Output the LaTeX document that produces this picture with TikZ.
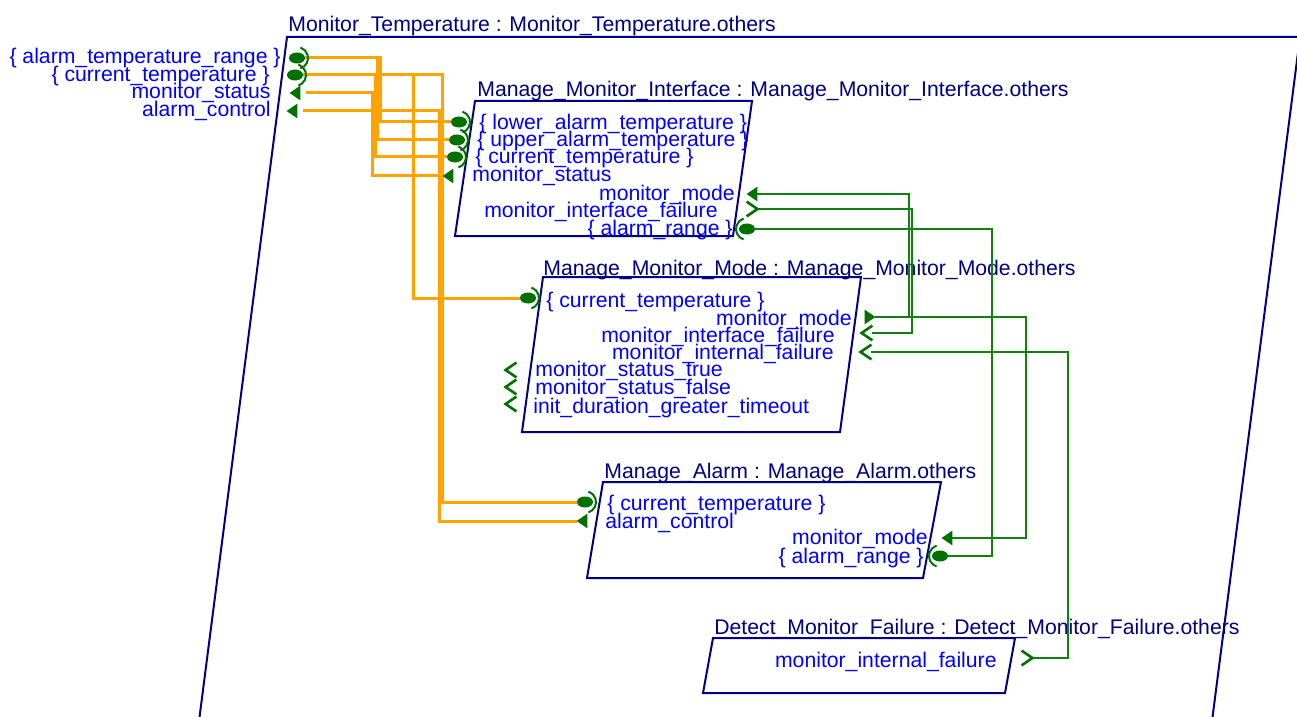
\documentclass[tikz,border=0pt]{standalone}
\usepackage{fontspec}
\setmainfont{Liberation Sans}
\usepackage{tikz}
\usetikzlibrary{shapes.geometric}

\definecolor{navy}{RGB}{0,0,128}
\definecolor{portblue}{RGB}{0,0,255}
\definecolor{portgreen}{RGB}{0,112,0}
\definecolor{linkorange}{RGB}{255,163,0}
\definecolor{linkgreen}{RGB}{16,128,16}

\tikzset{
  compbox/.style={draw=navy, line width=1pt},
  comptitle/.style={anchor=base west, inner sep=0pt, text=navy},
  portl/.style={anchor=base west, inner sep=0pt, text=portblue},
  portr/.style={anchor=base east, inner sep=0pt, text=portblue},
  dacc/.style={ellipse, fill=portgreen, inner sep=0pt, minimum width=8pt, minimum height=5.5pt},
  evt/.style={inner sep=0pt, minimum width=5pt, minimum height=7pt},
  acclink/.style={draw=linkorange, line width=1.5pt},
  evtlink/.style={draw=linkgreen, line width=1.2pt},
}

\begin{document}
\begin{tikzpicture}[x=0.5pt, y=-0.5pt, font=\fontsize{10.6}{12}\selectfont]
 \useasboundingbox (0,0) rectangle (1297,717);
 \clip (0,0) rectangle (1297,717);

 % components
 \draw[compbox] (287,37) -- (1300,37) -- (1207,760) -- (194,760) -- cycle;
 \draw[compbox] (475,101) -- (752,101) -- (733,236) -- (455,236) -- cycle;
 \draw[compbox] (543,277) -- (861,277) -- (840,432) -- (522,432) -- cycle;
 \draw[compbox] (603,482) -- (941,482) -- (923,578) -- (587,578) -- cycle;
 \draw[compbox] (713,638) -- (1015,638) -- (1005,693) -- (703,693) -- cycle;

 \node[comptitle] (mt)  at (288,32)  {Monitor\_Temperature : Monitor\_Temperature.others};
 \node[comptitle] (mi)  at (477,97)  {Manage\_Monitor\_Interface : Manage\_Monitor\_Interface.others};
 \node[comptitle] (mmm) at (543,275) {Manage\_Monitor\_Mode : Manage\_Monitor\_Mode.others};
 \node[comptitle] (ma)  at (604,478) {Manage\_Alarm : Manage\_Alarm.others};
 \node[comptitle] (dmf) at (714,634) {Detect\_Monitor\_Failure : Detect\_Monitor\_Failure.others};

 % port texts
 \node[portr] (mt-atr-t) at (281,64) {\{ alarm\_temperature\_range \}};
 \node[portr] (mt-ct-t)  at (270,82) {\{ current\_temperature \}};
 \node[portr] (mt-ms-t)  at (271,99) {monitor\_status};
 \node[portr] (mt-ac-t)  at (271,117) {alarm\_control};

 \node[portl] (mi-lower-t) at (479,130) {\{ lower\_alarm\_temperature \}};
 \node[portl] (mi-upper-t) at (477,147) {\{ upper\_alarm\_temperature \}};
 \node[portl] (mi-ct-t)    at (475,164) {\{ current\_temperature \}};
 \node[portl] (mi-ms-t)    at (472,182) {monitor\_status};
 \node[portr] (mi-mm-t)    at (735,200) {monitor\_mode};
 \node[portr] (mi-mif-t)   at (718,218) {monitor\_interface\_failure};
 \node[portr] (mi-ar-t)    at (733,235) {\{ alarm\_range \}};

 \node[portl] (mmm-ct-t)   at (546,307) {\{ current\_temperature \}};
 \node[portr] (mmm-mm-t)   at (852,325) {monitor\_mode};
 \node[portr] (mmm-mif-t)  at (835,342) {monitor\_interface\_failure};
 \node[portr] (mmm-mint-t) at (834,359) {monitor\_internal\_failure};
 \node[portl] (mmm-st-t)   at (535,376) {monitor\_status\_true};
 \node[portl] (mmm-sf-t)   at (535,394) {monitor\_status\_false};
 \node[portl] (mmm-idt-t)  at (533,413) {init\_duration\_greater\_timeout};

 \node[portl] (ma-ct-t) at (607,510) {\{ current\_temperature \}};
 \node[portl] (ma-ac-t) at (605,528) {alarm\_control};
 \node[portr] (ma-mm-t) at (928,544) {monitor\_mode};
 \node[portr] (ma-ar-t) at (924,563) {\{ alarm\_range \}};

 \node[portr] (dmf-mint-t) at (997,667) {monitor\_internal\_failure};

 % port symbols
 \node[dacc] (mt-atr)   at (297,58)  {};
 \node[dacc] (mt-ct)    at (295,75)  {};
 \node[evt]  (mt-ms)    at (295,93)  {};
 \node[evt]  (mt-ac)    at (292,111) {};
 \node[dacc] (mi-lower) at (459,122) {};
 \node[dacc] (mi-upper) at (457,140) {};
 \node[dacc] (mi-ct)    at (455,157) {};
 \node[evt]  (mi-ms)    at (448,176) {};
 \node[evt]  (mi-mm)    at (752,194) {};
 \node[evt]  (mi-mif)   at (752,209) {};
 \node[dacc] (mi-ar)    at (747,229) {};
 \node[dacc] (mmm-ct)   at (528,298) {};
 \node[evt]  (mmm-mm)   at (870,317) {};
 \node[evt]  (mmm-mif)  at (867,333) {};
 \node[evt]  (mmm-mint) at (866,352) {};
 \node[evt]  (mmm-st)   at (511,370) {};
 \node[evt]  (mmm-sf)   at (511,387) {};
 \node[evt]  (mmm-idt)  at (511,404) {};
 \node[dacc] (ma-ct)    at (585,502) {};
 \node[evt]  (ma-ac)    at (582,521) {};
 \node[evt]  (ma-mm)    at (947,538) {};
 \node[dacc] (ma-ar)    at (940,556) {};
 \node[evt]  (dmf-mint) at (1027,658) {};

 % bus columns
 \coordinate (oxA) at (380,0);  \coordinate (oxB) at (377,0);
 \coordinate (oxC) at (375,0);  \coordinate (oxD) at (372,0);
 \coordinate (oxE) at (413,0);  \coordinate (oxF) at (442,0);
 \coordinate (oxG) at (439,0);
 \coordinate (gxA) at (909,0);  \coordinate (gxB) at (912,0);
 \coordinate (gxC) at (992,0);  \coordinate (gxD) at (1026,0);
 \coordinate (gxE) at (1068,0);

 % data access connections
 \draw[acclink] (mt-atr.east) -| (oxA |- mi-lower) -- (mi-lower.west);
 \draw[acclink] (mt-atr.east) -| (oxB |- mi-upper) -- (mi-upper.west);
 \draw[acclink] (mt-ct.east) -| (oxC |- mi-ct) -- (mi-ct.west);
 \draw[acclink, shorten <=3pt] (mt-ms.east) -| (oxD |- mi-ms) -- (mi-ms.west);
 \draw[acclink] (mt-ct.east) -| (oxE |- mmm-ct) -- (mmm-ct.west);
 \draw[acclink] (mt-ct.east) -| (oxF |- ma-ct) -- (ma-ct.west);
 \draw[acclink, shorten <=3pt] (mt-ac.east) -| (oxG |- ma-ac) -- (ma-ac.west);

 % event connections
 \draw[evtlink] (mi-mm.east) -| (gxA |- mmm-mm);
 \draw[evtlink] (mmm-mm.east) -| (gxD |- ma-mm) -- (ma-mm.east);
 \draw[evtlink] (mi-mif.east) -| (gxB |- mmm-mif) -- (mmm-mif.east);
 \draw[evtlink] (mi-ar.east) -| (gxC |- ma-ar) -- (ma-ar.east);
 \draw[evtlink] (mmm-mint.east) -| (gxE |- dmf-mint) -- (dmf-mint.east);

 % symbol outlines
 \foreach \p in {mt-ms, mt-ac, mi-ms, mi-mm, ma-ac, ma-mm}
  \fill[portgreen] (\p.north east) -- (\p.west) -- (\p.south east) -- cycle;
 \fill[portgreen] (mmm-mm.north west) -- (mmm-mm.east) -- (mmm-mm.south west) -- cycle;
 \foreach \p in {mmm-mif, mmm-mint, mmm-st, mmm-sf, mmm-idt}
  \draw[portgreen, line width=1.3pt] (\p.north east) -- (\p.west) -- (\p.south east);
 \foreach \p in {mi-mif, dmf-mint}
  \draw[portgreen, line width=1.3pt] (\p.north west) -- (\p.east) -- (\p.south west);
 \foreach \p in {mt-atr, mt-ct, mi-lower, mi-upper, mi-ct, mmm-ct, ma-ct}
  \draw[portgreen, line width=1pt] ([shift={(72:11)}]\p.center) arc[start angle=72, end angle=-72, radius=11];
 \foreach \p in {mi-ar, ma-ar}
  \draw[portgreen, line width=1pt] ([shift={(108:11)}]\p.center) arc[start angle=108, end angle=252, radius=11];
\end{tikzpicture}
\end{document}
